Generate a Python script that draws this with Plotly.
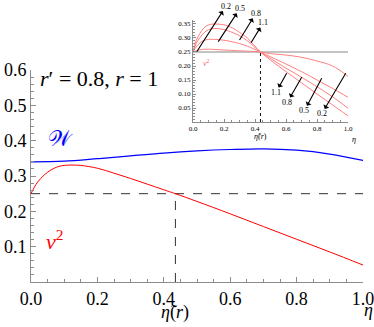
import plotly.graph_objects as go

# main panel, r' = 0.8, r = 1
eta_w = [0.0, 0.1, 0.2, 0.3, 0.4, 0.5, 0.6, 0.7, 0.8, 0.9, 1.0]
w_vals = [0.340, 0.342, 0.349, 0.357, 0.365, 0.371, 0.375, 0.377, 0.373, 0.362, 0.344]

eta_nu = [0.0, 0.01, 0.02, 0.04, 0.06, 0.08, 0.1, 0.12, 0.15, 0.2, 0.25, 0.3,
          0.35, 0.4, 0.435, 0.5, 0.6, 0.7, 0.8, 0.9, 1.0]
nu2_vals = [0.25, 0.268, 0.283, 0.303, 0.317, 0.326, 0.330, 0.331, 0.330, 0.322,
            0.308, 0.293, 0.277, 0.261, 0.25, 0.228, 0.193, 0.157, 0.121, 0.085, 0.048]

eta_tilde = 0.435
nu2_level = 0.25

x_ticks = [0.0, 0.2, 0.4, 0.6, 0.8, 1.0]
y_ticks = [0.1, 0.2, 0.3, 0.4, 0.5, 0.6]
y2_ticks = [0.05, 0.10, 0.15, 0.20, 0.25, 0.30, 0.35]

# inset, one curve per r'
eta_in = [0.0, 0.02, 0.045, 0.07, 0.1, 0.14, 0.2, 0.24, 0.3, 0.35, 0.435,
          0.5, 0.6, 0.7, 0.8, 0.9, 1.0]
inset_curves = {
    "0.2": [0.25, 0.254, 0.258, 0.260, 0.260, 0.259, 0.257, 0.256, 0.254, 0.253, 0.25,
            0.244, 0.239, 0.231, 0.218, 0.200, 0.163],
    "0.5": [0.25, 0.268, 0.283, 0.291, 0.295, 0.295, 0.292, 0.288, 0.280, 0.271, 0.25,
            0.233, 0.207, 0.180, 0.150, 0.120, 0.088],
    "0.8": [0.25, 0.280, 0.302, 0.318, 0.330, 0.334, 0.330, 0.323, 0.308, 0.290, 0.25,
            0.227, 0.192, 0.160, 0.126, 0.090, 0.049],
    "1.1": [0.25, 0.290, 0.317, 0.336, 0.347, 0.350, 0.347, 0.340, 0.320, 0.300, 0.25,
            0.221, 0.180, 0.140, 0.100, 0.061, 0.022],
}

# arrows in the inset: label, tail on curve (eta, v), label position (eta, v)
arrows = [("0.2", (0.024, 0.251), (0.213, 0.414)),
          ("0.5", (0.163, 0.287), (0.303, 0.406)),
          ("0.8", (0.300, 0.293), (0.405, 0.388)),
          ("1.1", (0.374, 0.283), (0.454, 0.355)),
          ("1.1", (0.604, 0.174), (0.534, 0.105)),
          ("0.8", (0.701, 0.160), (0.608, 0.070)),
          ("0.5", (0.830, 0.156), (0.718, 0.040)),
          ("0.2", (0.985, 0.174), (0.830, 0.029))]

serif = "Liberation Serif"
grey = "#8c8c8c"

fig = go.Figure()

fig.add_trace(go.Scatter(x=[0, 1], y=[nu2_level, nu2_level], mode="lines",
                         line=dict(color="#333333", width=1, dash="dash"), showlegend=False))
fig.add_trace(go.Scatter(x=[eta_tilde, eta_tilde], y=[0, nu2_level], mode="lines",
                         line=dict(color="#333333", width=1, dash="dash"), showlegend=False))
fig.add_trace(go.Scatter(x=eta_w, y=w_vals, mode="lines", line=dict(color="#0000ff", width=1.2, shape="spline"),
                         showlegend=False))
fig.add_trace(go.Scatter(x=eta_nu, y=nu2_vals, mode="lines", line=dict(color="#ff0000", width=1, shape="spline"),
                         showlegend=False))

# inset
fig.add_trace(go.Scatter(x=[0, 1], y=[nu2_level, nu2_level], mode="lines", xaxis="x2", yaxis="y2",
                         line=dict(color="#888888", width=1.2), showlegend=False))
fig.add_trace(go.Scatter(x=[eta_tilde, eta_tilde], y=[0, nu2_level], mode="lines", xaxis="x2", yaxis="y2",
                         line=dict(color="#111111", width=1, dash="dot"), showlegend=False))
for name, vals in inset_curves.items():
    fig.add_trace(go.Scatter(x=eta_in, y=vals, mode="lines", xaxis="x2", yaxis="y2",
                             line=dict(color="#ff7f7f", width=1, shape="spline"), showlegend=False))

ann = []
for label, tail, lab in arrows:
    ann.append(dict(xref="x2", yref="y2", axref="x2", ayref="y2", x=tail[0], y=tail[1],
                    ax=lab[0], ay=lab[1], text=label, showarrow=True, arrowside="start",
                    arrowhead=2, arrowsize=1, arrowwidth=1.1, arrowcolor="black",
                    standoff=0, startstandoff=0, borderpad=0,
                    font=dict(family=serif, size=8, color="black")))


def note(x, y, s, size, color, xref="x", yref="y", **kw):
    ann.append(dict(xref=xref, yref=yref, x=x, y=y, text=s, showarrow=False,
                    font=dict(family=serif, size=size, color=color), **kw))


note(0.088, 0.21, "<i>ν</i><sup>2</sup>", 8, "#ff6060", "x2", "y2")
note(eta_tilde, 0, "<i>η̃</i>(<i>r</i>)", 8, "black", "x2", "y2", yshift=-14)
note(1.0, 0, "<i>η</i>", 8, "black", "x2", "y2", xshift=6, yshift=-17)

note(0.022, 0.575, "<i>r</i>′ = 0.8, <i>r</i> = 1", 22, "black", xanchor="left")
note(0.09, 0.405, "𝒲", 22, "#0000ff")
note(0.07, 0.12, "<i>ν</i><sup>2</sup>", 22, "#ff0000")
note(eta_tilde, 0, "<i>η̃</i>(<i>r</i>)", 18, "black", yshift=-30)
note(1.0, 0, "<i>η</i>", 18, "black", xshift=5, yshift=-28)

axis_common = dict(showgrid=False, zeroline=False, showline=True, linecolor=grey, linewidth=1,
                   ticks="inside", tickcolor=grey, ticklabeloverflow="allow", automargin=False)

fig.update_layout(
    width=374, height=327,
    margin=dict(l=31, r=11, t=5, b=45),
    plot_bgcolor="white", paper_bgcolor="white",
    font=dict(family=serif, color="black"),
    xaxis=dict(axis_common, domain=[0, 1], range=[0, 1], tickvals=x_ticks, tickformat=".1f", ticklen=5,
               tickfont=dict(family=serif, size=18),
               minor=dict(dtick=0.05, ticklen=3, tickcolor=grey, ticks="inside")),
    yaxis=dict(axis_common, domain=[0, 0.7653], range=[0, 0.6], tickvals=y_ticks,
               tickformat=".1f", ticklen=5, tickfont=dict(family=serif, size=18),
               minor=dict(dtick=0.02, ticklen=3, tickcolor=grey, ticks="inside")),
    xaxis2=dict(axis_common, domain=[0.488, 0.955], range=[0, 1], anchor="y2", tickvals=x_ticks,
                tickformat=".1f", ticklen=3, tickfont=dict(family=serif, size=7),
                minor=dict(dtick=0.05, ticklen=2, tickcolor=grey, ticks="inside")),
    yaxis2=dict(axis_common, domain=[0.5776, 0.9466], range=[0, 0.365], anchor="x2",
                tickvals=y2_ticks, tickformat=".2f", ticklen=3, tickfont=dict(family=serif, size=7),
                minor=dict(dtick=0.01, ticklen=2, tickcolor=grey, ticks="inside")),
    annotations=ann,
)

# page has a default 8px body margin; drop it so the figure sits at the window corner
fig.write_html("out.html", config={"displayModeBar": False},
               post_script="document.body.style.margin='0px';")
